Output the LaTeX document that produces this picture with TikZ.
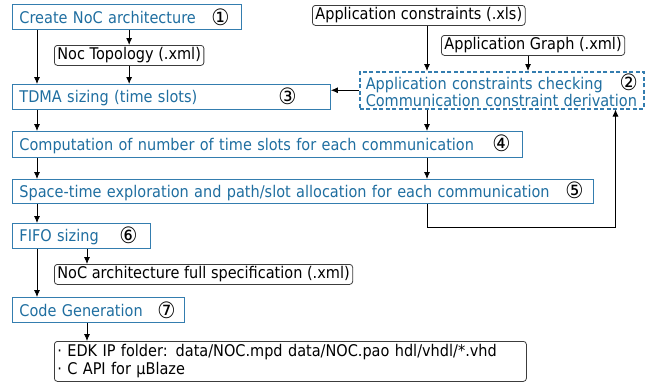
\documentclass[tikz,border=0pt]{standalone}
\usepackage{fontspec}
\usepackage{graphicx}
\setmainfont{DejaVu Sans}[FakeStretch=0.9]
\usetikzlibrary{arrows,arrows.meta,positioning}

\definecolor{stepblue}{RGB}{31,110,160}
\definecolor{stepline}{RGB}{52,125,175}
\definecolor{fileline}{RGB}{60,60,60}
\newcommand{\stepno}[1]{\textcolor{black}{\raisebox{-1.5pt}{\scalebox{1.4}{#1}}}}

\tikzset{
	stepbox/.style={draw=stepline, line width=0.9pt, text=stepblue, anchor=north west, minimum height=25pt, inner xsep=7pt, inner ysep=0pt, align=left},
	filebox/.style={draw=fileline, rounded corners=3pt, line width=0.8pt, anchor=north west, minimum height=20pt, inner xsep=3pt, inner ysep=0pt},
	flow/.style={-{Latex[length=7pt,width=6pt]}, line width=0.8pt},
}

\begin{document}
\begin{tikzpicture}[x=1pt,y=-1pt,font=\fontsize{16.1}{17}\selectfont]
		\useasboundingbox (0,0) rectangle (658,383);
		\node[stepbox, text width=215pt] (create) at (12,4) {Create NoC architecture\hfill\stepno{①}\hspace*{5pt}};
		\node[stepbox, text width=304pt] (tdma) at (12,84) {TDMA sizing (time slots)\hfill\stepno{③}\hspace*{27pt}};
		\node[stepbox, text width=496pt, minimum height=26pt] (comp) at (12,131) {Computation of number of time slots for each communication\hfill\stepno{④}\hspace*{5pt}};
		\node[stepbox, text width=567pt, minimum height=24pt] (space) at (12,179) {Space-time exploration and path/slot allocation for each communication\hfill\stepno{⑤}\hspace*{3pt}};
		\node[stepbox, text width=124pt] (fifo) at (12,223) {FIFO sizing\hfill\stepno{⑥}\hspace*{6pt}};
		\node[stepbox, text width=158pt] (codegen) at (12,297) {Code Generation\hfill\stepno{⑦}\hspace*{2pt}};
		\node[stepbox, dash pattern=on 4pt off 2.5pt, line width=1.5pt, text width=272pt, inner xsep=6pt, minimum height=37pt] (check) at (359,71)
			{Application constraints checking\hfill\stepno{②}\hspace*{2pt}\\\mbox{Communication constraint derivation}};

		\node[filebox] (topo) at (54,45) {Noc Topology (.xml)};
		\node[filebox] (appc) at (312,5) {Application constraints (.xls)};
		\node[filebox] (appg) at (441,35) {Application Graph (.xml)};
		\node[filebox] (spec) at (54,264) {NoC architecture full specification (.xml)};
		\node[filebox, text width=466pt, align=left, inner ysep=2pt, minimum height=40pt, font=\fontsize{16.1}{18}\selectfont] (out) at (54,341)
			{· EDK IP folder: data/NOC.mpd data/NOC.pao hdl/vhdl/*.vhd\\· C API for µBlaze};

		\coordinate (mid) at (427,0);
		\draw[flow] ([xshift=25pt]create.south west) -- ([xshift=25pt]tdma.north west);
		\draw[flow] (create.south -| topo.north) -- (topo.north);
		\draw[flow] (topo.south) -- (topo.south |- tdma.north);
		\draw[flow] (appc.south -| mid) -- (check.north -| mid);
		\draw[flow] ([xshift=-5pt]appg.south) -- ([xshift=-5pt]appg.south |- check.north);
		\draw[flow] (check.west) -- (check.west -| tdma.east);
		\draw[flow] ([xshift=25pt]tdma.south west) -- ([xshift=25pt]comp.north west);
		\draw[flow] (check.south -| mid) -- (comp.north -| mid);
		\draw[flow] ([xshift=25pt]comp.south west) -- ([xshift=25pt]space.north west);
		\draw[flow] (comp.south -| mid) -- (space.north -| mid);
		\draw[flow] (space.south -| mid) -- ++(0,23) -| ([xshift=-29pt]check.south east);
		\draw[flow] ([xshift=25pt]space.south west) -- ([xshift=25pt]fifo.north west);
		\draw[flow] ([xshift=75pt]fifo.south west) -- ([xshift=75pt]fifo.south west |- spec.north);
		\draw[flow] ([xshift=25pt]fifo.south west) -- ([xshift=25pt]codegen.north west);
		\draw[flow] ([xshift=75pt]codegen.south west) -- ([xshift=75pt]codegen.south west |- out.north);
	\end{tikzpicture}
\end{document}
